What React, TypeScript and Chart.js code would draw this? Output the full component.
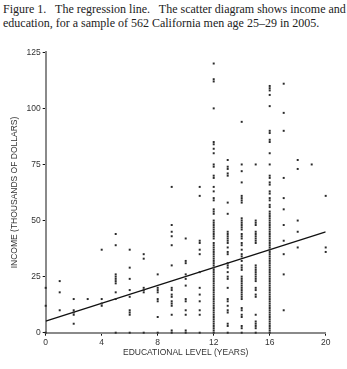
import React, { useEffect, useRef } from "react";
import { Chart, registerables } from "chart.js";

Chart.register(...registerables);

// Income (thousands of dollars) observed at each educational level (years)
const yrs0 = [20, 12, 0];
const yrs1 = [23, 18, 10];
const yrs2 = [15, 10, 9, 8, 4];
const yrs3 = [15];
const yrs4 = [37, 15, 13, 12];
const yrs5 = [44, 39, 26, 25, 24, 23, 22, 18, 15, 0];
const yrs6 = [37, 29, 24, 19, 16, 10, 9, 8, 0];
const yrs7 = [35, 33, 20, 19, 18, 0];
const yrs8 = [26, 20, 19, 18, 15, 14, 7, 0];
const yrs9 = [65, 48, 45, 43, 39, 30, 20, 19, 17, 16, 14, 13, 12, 8, 1, 0];
const yrs10 = [42, 32, 31, 26, 24, 21, 15, 14, 10, 8, 1, 0];
const yrs11 = [65, 61, 41, 40, 37, 35, 27, 20, 17, 14, 10, 8, 0];
const yrs12 = [120, 113, 112, 100, 85, 84, 82, 80, 75, 74, 70, 69, 65, 63, 60, 59, 55, 54, 53, 50, 49, 48, 47, 46, 45, 44, 43, 42, 40, 39, 38, 37, 36, 35, 34, 33, 32, 31, 30, 29, 28, 27, 26, 25, 24, 23, 22, 21, 20, 19, 18, 17, 16, 15, 14, 13, 12, 11, 10, 9, 8, 7, 6, 5, 4, 3, 2, 1, 0];
const yrs13 = [77, 74, 73, 71, 70, 58, 53, 45, 44, 43, 42, 41, 40, 38, 36, 35, 31, 30, 29, 27, 25, 24, 20, 15, 14, 12, 10, 9, 4, 3, 0];
const yrs14 = [94, 75, 72, 67, 61, 60, 59, 58, 51, 50, 49, 48, 47, 46, 44, 43, 42, 40, 39, 37, 35, 34, 32, 30, 29, 28, 25, 24, 23, 22, 21, 20, 19, 18, 17, 16, 15, 11, 10, 8, 7, 3, 2, 0];
const yrs15 = [75, 50, 49, 48, 45, 44, 43, 42, 41, 40, 30, 29, 28, 27, 26, 25, 24, 23, 20, 19, 17, 16, 8, 5, 4, 3, 2, 0];
const yrs16 = [110, 109, 108, 106, 101, 90, 89, 86, 85, 80, 75, 70, 69, 67, 66, 63, 62, 60, 59, 57, 56, 54, 53, 52, 51, 50, 49, 48, 47, 46, 45, 44, 43, 42, 41, 40, 39, 38, 37, 36, 35, 34, 33, 32, 31, 30, 29, 28, 27, 26, 25, 24, 23, 22, 21, 20, 19, 18, 17, 16, 15, 14, 13, 12, 11, 10, 9, 8, 7, 6, 5, 4, 3, 2, 1, 0];
const yrs17 = [111, 98, 90, 69, 60, 55, 48, 41, 35, 26, 10];
const yrs18 = [77, 73, 50, 45, 38];
const yrs19 = [75];
const yrs20 = [61, 38, 36];

const levels = [0, 1, 2, 3, 4, 5, 6, 7, 8, 9, 10, 11, 12, 13, 14, 15, 16, 17, 18, 19, 20];
const incomes = [yrs0, yrs1, yrs2, yrs3, yrs4, yrs5, yrs6, yrs7, yrs8, yrs9, yrs10, yrs11, yrs12, yrs13, yrs14, yrs15, yrs16, yrs17, yrs18, yrs19, yrs20];

// Regression line end points
const lineX = [0, 20];
const lineY = [5.2, 45];

const xTicks = [0, 4, 8, 12, 16, 20];
const yTicks = [0, 25, 50, 75, 100, 125];

const caption1 = "Figure 1.\u2002 The regression line.\u2002 The scatter diagram shows income and";
const caption2 = "education, for a sample of 562 California men age 25\u201329 in 2005.";
const xTitle = "EDUCATIONAL LEVEL (YEARS)";
const yTitle = "INCOME (THOUSANDS OF DOLLARS)";

const SANS = "'Liberation Sans', Arial, sans-serif";

export default function App() {
  const ref = useRef<HTMLCanvasElement | null>(null);

  useEffect(() => {
    const canvas = ref.current;
    if (!canvas) return;
    const points: { x: number; y: number }[] = [];
    levels.forEach((lv, i) => {
      incomes[i].forEach((v) => points.push({ x: lv, y: v }));
    });
    const titlePlugin = {
      id: "axisTitles",
      afterDraw(chart: any) {
        const ctx = chart.ctx;
        const area = chart.chartArea;
        ctx.save();
        ctx.fillStyle = "#333";
        ctx.font = `8.5px ${SANS}`;
        ctx.textAlign = "center";
        ctx.textBaseline = "middle";
        ctx.fillText(xTitle, (area.left + area.right) / 2, 313);
        ctx.translate(15, (area.top + area.bottom) / 2);
        ctx.rotate(-Math.PI / 2);
        ctx.fillText(yTitle, 0, 0);
        ctx.restore();
      },
    };
    const chart = new Chart(canvas, {
      type: "scatter",
      data: {
        datasets: [
          {
            type: "scatter",
            data: points,
            pointStyle: "rect",
            pointRadius: 1.4,
            pointBorderWidth: 0,
            backgroundColor: "#2a2a2a",
            borderColor: "#2a2a2a",
            clip: false,
          } as any,
          {
            type: "line",
            data: lineX.map((x, i) => ({ x, y: lineY[i] })),
            borderColor: "#111",
            borderWidth: 1.3,
            pointRadius: 0,
            fill: false,
          } as any,
        ],
      },
      options: {
        responsive: false,
        animation: false,
        devicePixelRatio: 1,
        layout: { padding: { top: 12.3, right: 21.3, left: 0, bottom: 0 } },
        plugins: { legend: { display: false }, tooltip: { enabled: false } },
        scales: {
          x: {
            type: "linear",
            min: 0,
            max: 20,
            afterFit: (s: any) => {
              s.height = 36.3;
            },
            afterBuildTicks: (s: any) => {
              s.ticks = xTicks.map((v) => ({ value: v }));
            },
            grid: { drawOnChartArea: false, drawTicks: true, tickLength: 3, color: "#111", tickWidth: 1 },
            border: { color: "#8a8a8a", width: 2 },
            ticks: { color: "#333", font: { family: SANS, size: 8.5 }, padding: 2, maxRotation: 0 },
          },
          y: {
            type: "linear",
            min: 0,
            max: 125,
            afterFit: (s: any) => {
              s.width = 45.7;
            },
            afterBuildTicks: (s: any) => {
              s.ticks = yTicks.map((v) => ({ value: v }));
            },
            grid: { drawOnChartArea: false, drawTicks: true, tickLength: 3, color: "#111", tickWidth: 1 },
            border: { color: "#8a8a8a", width: 2 },
            ticks: { color: "#333", font: { family: SANS, size: 8.5 }, padding: 2 },
          },
        },
      },
      plugins: [titlePlugin],
    });
    return () => chart.destroy();
  }, []);

  return (
    <div style={{ position: "absolute", left: 0, top: 0, width: 347, height: 369, background: "#fff", overflow: "hidden" }}>
      <div
        style={{
          position: "absolute",
          left: 3,
          top: 3,
          width: 339,
          fontFamily: "'Liberation Serif', 'Times New Roman', serif",
          fontSize: 12,
          lineHeight: "13.5px",
          color: "#222",
        }}
      >
        <div style={{ textAlign: "justify", textAlignLast: "justify", whiteSpace: "nowrap" }}>{caption1}</div>
        <div>{caption2}</div>
      </div>
      <canvas ref={ref} width={347} height={329} style={{ position: "absolute", left: 0, top: 40, width: 347, height: 329 }} />
    </div>
  );
}
